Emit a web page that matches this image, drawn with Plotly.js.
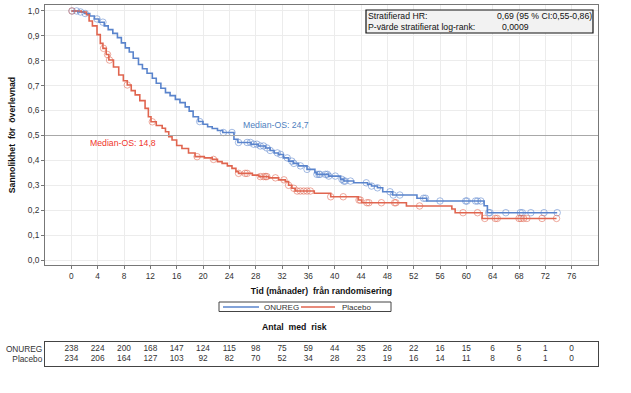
<!DOCTYPE html>
<html>
<head>
<meta charset="utf-8">
<script src="https://cdn.plot.ly/plotly-3.0.1.min.js"></script>
<style>html,body{margin:0;padding:0;background:#fff;}#chart{width:631px;height:393px;}</style>
</head>
<body>
<div id="chart"></div>
<script>
// ---- Data ----
var seriesNames = ["ONUREG", "Placebo"];

// ONUREG Kaplan-Meier steps (months, survival probability after step)
var onuregTimes = [0, 1.0, 2.0, 2.8, 3.5, 4.2, 5.0, 5.6, 6.3, 7.0, 7.6, 8.2, 8.8, 9.4, 10.2, 10.8, 11.5, 12.3, 12.9, 13.6, 14.3, 15.0, 15.8, 16.5, 17.3, 17.9, 18.5, 19.3, 20.0, 20.7, 21.4, 22.2, 23.0, 24.7, 25.3, 27.3, 28.4, 29.5, 30.2, 30.8, 31.5, 32.2, 33.0, 33.7, 34.5, 35.8, 37.0, 37.3, 39.1, 40.9, 41.4, 42.9, 45.0, 45.6, 46.5, 47.3, 48.8, 52.5, 54.0, 62.7, 63.2];
var onuregSurv  = [1.0, 0.996, 0.99, 0.98, 0.968, 0.955, 0.94, 0.925, 0.91, 0.893, 0.872, 0.852, 0.835, 0.81, 0.785, 0.768, 0.75, 0.73, 0.71, 0.69, 0.672, 0.66, 0.645, 0.632, 0.615, 0.598, 0.575, 0.556, 0.545, 0.535, 0.528, 0.52, 0.512, 0.485, 0.472, 0.465, 0.458, 0.45, 0.44, 0.43, 0.424, 0.41, 0.397, 0.388, 0.378, 0.364, 0.351, 0.344, 0.337, 0.324, 0.317, 0.31, 0.304, 0.297, 0.29, 0.274, 0.261, 0.248, 0.237, 0.218, 0.19];
var onuregCensor = [0.1, 0.8, 1.4, 2.1, 3.9, 4.8, 19.5, 23.1, 24.4, 25.4, 26.7, 27.2, 27.7, 28.2, 28.7, 29.2, 29.7, 30.2, 31.3, 31.8, 32.8, 33.5, 33.8, 34.8, 35.8, 37.3, 37.6, 37.8, 38.6, 38.9, 39.1, 40.1, 41.1, 41.4, 41.6, 42.4, 44.8, 45.6, 46.5, 48.4, 48.9, 49.9, 53.5, 53.8, 56.0, 59.9, 60.1, 61.4, 61.7, 62.2, 63.4, 63.6, 66.0, 68.2, 68.5, 69.8, 71.8, 73.8];

// Placebo Kaplan-Meier steps
var placeboTimes = [0, 1.5, 2.3, 2.7, 3.2, 3.9, 4.4, 4.8, 5.3, 5.7, 6.4, 7.2, 7.9, 8.5, 9.1, 9.7, 10.4, 11.2, 11.7, 12.1, 12.9, 13.8, 14.3, 14.8, 15.3, 16.0, 16.8, 17.8, 18.8, 20.2, 21.4, 22.2, 22.9, 23.7, 24.4, 25.0, 25.4, 27.5, 28.5, 30.0, 31.5, 32.5, 33.0, 33.5, 34.0, 36.9, 39.4, 43.6, 44.1, 50.9, 57.8, 58.3, 62.4];
var placeboSurv  = [1.0, 0.996, 0.985, 0.96, 0.94, 0.905, 0.87, 0.85, 0.825, 0.803, 0.775, 0.743, 0.72, 0.703, 0.68, 0.663, 0.64, 0.609, 0.575, 0.555, 0.54, 0.529, 0.515, 0.495, 0.482, 0.46, 0.448, 0.43, 0.415, 0.41, 0.404, 0.395, 0.388, 0.378, 0.368, 0.355, 0.348, 0.341, 0.335, 0.33, 0.322, 0.315, 0.3, 0.288, 0.277, 0.268, 0.254, 0.241, 0.23, 0.217, 0.205, 0.19, 0.167];
var placeboCensor = [0.1, 4.9, 5.5, 5.8, 8.5, 12.3, 19.1, 21.6, 25.4, 26.4, 26.7, 28.7, 29.2, 29.5, 29.7, 31.0, 32.3, 33.0, 33.8, 34.3, 34.8, 35.3, 35.8, 36.3, 39.4, 41.3, 43.7, 43.9, 44.9, 45.2, 47.1, 49.1, 49.3, 52.9, 59.5, 61.7, 62.8, 64.4, 64.7, 68.0, 68.3, 68.7, 69.2, 71.5, 73.7];

// Number at risk table
var riskTimes   = [0, 4, 8, 12, 16, 20, 24, 28, 32, 36, 40, 44, 48, 52, 56, 60, 64, 68, 72, 76];
var onuregRisk  = [238, 224, 200, 168, 147, 124, 115, 98, 75, 59, 44, 35, 26, 22, 16, 15, 6, 5, 1, 0];
var placeboRisk = [234, 206, 164, 127, 103, 92, 82, 70, 52, 34, 28, 23, 19, 16, 14, 11, 8, 6, 1, 0];

// Axis ticks
var xTickVals = [0, 4, 8, 12, 16, 20, 24, 28, 32, 36, 40, 44, 48, 52, 56, 60, 64, 68, 72, 76];
var yTickVals = [0, 0.1, 0.2, 0.3, 0.4, 0.5, 0.6, 0.7, 0.8, 0.9, 1.0];
var yTickText = ["0,0", "0,1", "0,2", "0,3", "0,4", "0,5", "0,6", "0,7", "0,8", "0,9", "1,0"];

// Texts
var medianOnureg = "Median-OS: 24,7";
var medianPlacebo = "Median-OS: 14,8";
var statLabels = ["Stratifierad HR:", "P-värde stratifierat log-rank:"];
var statValues = ["0,69 (95 % CI:0,55-0,86)", "0,0009"];

// ---- Helpers ----
function stepAt(times, surv, t) {
  var v = surv[0];
  for (var i = 0; i < times.length; i++) { if (times[i] <= t) v = surv[i]; }
  return v;
}
function lastOf(a) { return a[a.length - 1]; }

var BLUE = "#5a84cc", RED = "#e0654f";
var FONT = "Liberation Sans, Arial, sans-serif";
var FS = 8.7;

// layout geometry helpers (pixels -> paper)
var W = 631, H = 393, mL = 45, mR = 33, mT = 5, mB = 20;
var pw = W - mL - mR, ph = H - mT - mB;
function px(x) { return (x - mL) / pw; }
function py(y) { return (H - mB - y) / ph; }

var endOn = Math.max(lastOf(onuregCensor), lastOf(onuregTimes));
var endPl = Math.max(lastOf(placeboCensor), lastOf(placeboTimes));

var traces = [
  { x: onuregTimes.concat([endOn]), y: onuregSurv.concat([lastOf(onuregSurv)]), mode: "lines", line: { shape: "hv", color: BLUE, width: 1.6 }, name: seriesNames[0], showlegend: false, xaxis: "x", yaxis: "y", hoverinfo: "skip" },
  { x: placeboTimes.concat([endPl]), y: placeboSurv.concat([lastOf(placeboSurv)]), mode: "lines", line: { shape: "hv", color: RED, width: 1.6 }, name: seriesNames[1], showlegend: false, xaxis: "x", yaxis: "y", hoverinfo: "skip" },
  { x: onuregCensor, y: onuregCensor.map(function (t) { return stepAt(onuregTimes, onuregSurv, t); }), mode: "markers", marker: { symbol: "circle-open", size: 6.5, color: "rgba(90,132,204,0.55)", line: { width: 1 } }, showlegend: false, xaxis: "x", yaxis: "y", hoverinfo: "skip" },
  { x: placeboCensor, y: placeboCensor.map(function (t) { return stepAt(placeboTimes, placeboSurv, t); }), mode: "markers", marker: { symbol: "circle-open", size: 6.5, color: "rgba(224,101,79,0.55)", line: { width: 1 } }, showlegend: false, xaxis: "x", yaxis: "y", hoverinfo: "skip" },
  { x: riskTimes, y: riskTimes.map(function () { return 0.7; }), text: onuregRisk.map(String), mode: "text", textfont: { family: FONT, size: 8.3, color: "#333" }, showlegend: false, xaxis: "x2", yaxis: "y2", hoverinfo: "skip" },
  { x: riskTimes, y: riskTimes.map(function () { return 0.28; }), text: placeboRisk.map(String), mode: "text", textfont: { family: FONT, size: 8.3, color: "#333" }, showlegend: false, xaxis: "x2", yaxis: "y2", hoverinfo: "skip" }
];

var layout = {
  width: W, height: H,
  margin: { l: mL, r: mR, t: mT, b: mB },
  paper_bgcolor: "#fff", plot_bgcolor: "#fff",
  font: { family: FONT, size: FS, color: "#222" },
  showlegend: false,
  xaxis: {
    domain: [0, 1], range: [-4, 80], tickvals: xTickVals, ticktext: xTickVals.map(String),
    showgrid: true, gridcolor: "#ececec", zeroline: false,
    showline: true, linecolor: "#777", linewidth: 1, mirror: true,
    ticks: "outside", ticklen: 3, tickcolor: "#777",
    tickfont: { size: 8.3, color: "#333" },
    title: { text: "<b>Tid (månader)  från randomisering</b>", font: { size: FS, color: "#111" }, standoff: 7 },
    anchor: "y"
  },
  yaxis: {
    domain: [py(265), 1], range: [-0.02, 1.024], tickvals: yTickVals, ticktext: yTickText,
    showgrid: true, gridcolor: "#ececec", zeroline: false,
    showline: true, linecolor: "#777", linewidth: 1, mirror: true,
    ticks: "outside", ticklen: 3, tickcolor: "#777",
    tickfont: { size: 8.3, color: "#333" },
    title: { text: "<b>Sannolikhet  för  överlevnad</b>", font: { size: FS, color: "#111" }, standoff: 10 },
    anchor: "x"
  },
  xaxis2: {
    domain: [0, 1], range: [-4, 80], showgrid: false, zeroline: false, showticklabels: false,
    showline: true, linecolor: "#444", linewidth: 1, mirror: true, anchor: "y2", ticks: ""
  },
  yaxis2: {
    domain: [py(366), py(342)], range: [0, 1], showgrid: false, zeroline: false,
    tickvals: [0.7, 0.28], ticktext: seriesNames, ticks: "", tickfont: { size: 8.3, color: "#333" },
    showline: true, linecolor: "#444", linewidth: 1, mirror: true, anchor: "x2"
  },
  shapes: [
    { type: "line", xref: "paper", yref: "y", x0: 0, x1: 1, y0: 0.5, y1: 0.5, line: { color: "#a8a8a8", width: 1 } },
    { type: "rect", xref: "paper", yref: "paper", x0: px(366), x1: px(593), y0: py(33), y1: py(10), fillcolor: "#f2f2f2", line: { color: "#111", width: 1.2 } },
    // legend box and keys
    { type: "rect", xref: "paper", yref: "paper", x0: px(219), x1: px(391), y0: py(311.5), y1: py(302), fillcolor: "#fff", line: { color: "#444", width: 1 } },
    { type: "line", xref: "paper", yref: "paper", x0: px(223), x1: px(259), y0: py(307), y1: py(307), line: { color: BLUE, width: 1.6 } },
    { type: "line", xref: "paper", yref: "paper", x0: px(301), x1: px(335), y0: py(307), y1: py(307), line: { color: RED, width: 1.6 } }
  ],
  annotations: [
    { text: medianOnureg, xref: "x", yref: "y", x: 25.7, y: 0.542, xanchor: "left", yanchor: "middle", showarrow: false, font: { size: FS, color: "#4f7fc0" } },
    { text: medianPlacebo, xref: "x", yref: "y", x: 2.6, y: 0.47, xanchor: "left", yanchor: "middle", showarrow: false, font: { size: FS, color: "#f0352b" } },
    { text: statLabels[0], xref: "paper", yref: "paper", x: px(366), y: py(16), xanchor: "left", yanchor: "middle", showarrow: false, font: { size: FS, color: "#111" } },
    { text: statLabels[1], xref: "paper", yref: "paper", x: px(366), y: py(27), xanchor: "left", yanchor: "middle", showarrow: false, font: { size: FS, color: "#111" } },
    { text: statValues[0], xref: "paper", yref: "paper", x: px(495), y: py(16), xanchor: "left", yanchor: "middle", showarrow: false, font: { size: FS, color: "#111" } },
    { text: statValues[1], xref: "paper", yref: "paper", x: px(500), y: py(27), xanchor: "left", yanchor: "middle", showarrow: false, font: { size: FS, color: "#111" } },
    { text: seriesNames[0], xref: "paper", yref: "paper", x: px(262), y: py(307), xanchor: "left", yanchor: "middle", showarrow: false, font: { size: 8, color: "#333" } },
    { text: seriesNames[1], xref: "paper", yref: "paper", x: px(340), y: py(307), xanchor: "left", yanchor: "middle", showarrow: false, font: { size: 8, color: "#333" } },
    { text: "<b>Antal  med  risk</b>", xref: "paper", yref: "paper", x: px(294), y: py(327), xanchor: "center", yanchor: "middle", showarrow: false, font: { size: FS, color: "#111" } }
  ]
};

Plotly.newPlot("chart", traces, layout, { staticPlot: true, displayModeBar: false });
</script>
</body>
</html>
